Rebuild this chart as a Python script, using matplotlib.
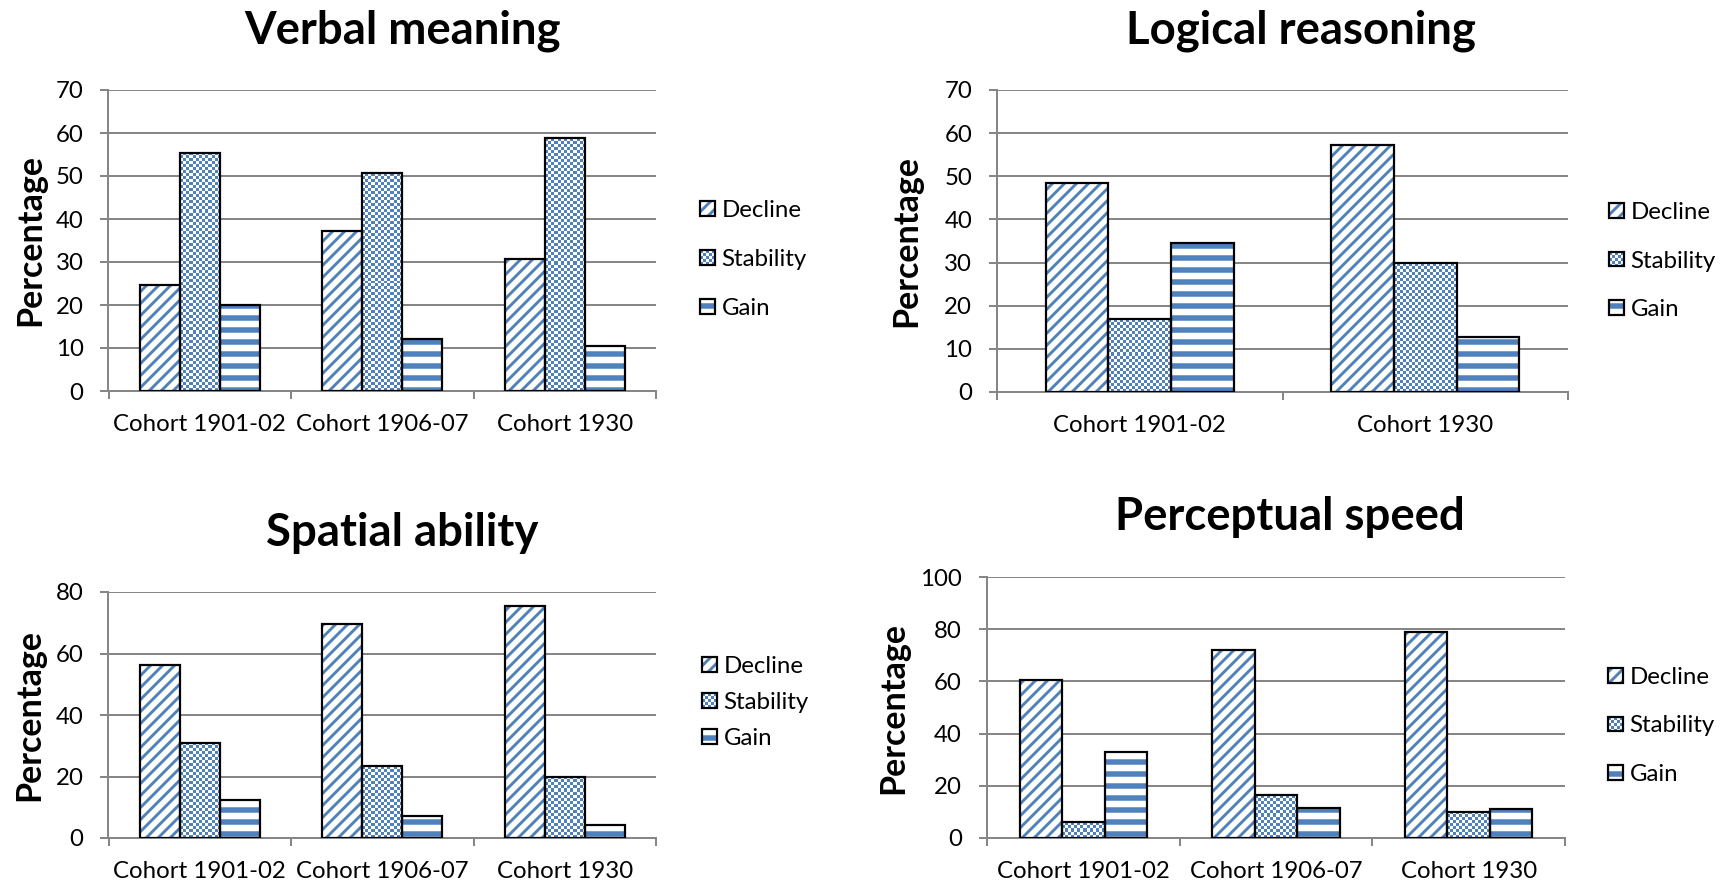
import numpy as np
import matplotlib
matplotlib.use("Agg")
import matplotlib.pyplot as plt
from matplotlib.patches import Rectangle
from matplotlib.legend_handler import HandlerBase
from matplotlib.colors import ListedColormap

plt.rcParams['font.family'] = ['Lato', 'DejaVu Sans']

# ---------------------------------------------------------------- data
series_names = ["Decline", "Stability", "Gain"]

verbal_cohorts = ["Cohort 1901-02", "Cohort 1906-07", "Cohort 1930"]
verbal_decline = [24.6, 37.2, 30.8]
verbal_stability = [55.4, 50.6, 58.8]
verbal_gain = [20.0, 12.2, 10.5]

logical_cohorts = ["Cohort 1901-02", "Cohort 1930"]
logical_decline = [48.5, 57.2]
logical_stability = [16.9, 29.9]
logical_gain = [34.5, 12.8]

spatial_cohorts = ["Cohort 1901-02", "Cohort 1906-07", "Cohort 1930"]
spatial_decline = [56.3, 69.5, 75.6]
spatial_stability = [30.9, 23.3, 19.9]
spatial_gain = [12.5, 7.0, 4.3]

speed_cohorts = ["Cohort 1901-02", "Cohort 1906-07", "Cohort 1930"]
speed_decline = [60.4, 71.9, 78.8]
speed_stability = [6.0, 16.3, 10.0]
speed_gain = [33.1, 11.5, 11.0]

# ---------------------------------------------------------------- style
W, H, DPI = 1729, 888, 72
BLUE = "#4F81BD"
GRID = "#868686"
BAR_W = 0.22
EDGE_LW = 2.2
TICK_FS = 24
TITLE_FS = 45.5
YLABEL_FS = 34
CHECK_PX = 3.0

HATCHES = {"Decline": ("//", 2.9), "Gain": ("-", 5.5)}


def set_hatch_lw(patch, lw):
    if hasattr(patch, "set_hatch_linewidth"):
        patch.set_hatch_linewidth(lw)


class SwatchHandler(HandlerBase):
    """Small square legend key mirroring the fill of each series."""

    def __init__(self, kind):
        super().__init__()
        self.kind = kind

    def create_artists(self, legend, orig_handle, xdescent, ydescent,
                       width, height, fontsize, trans):
        side = min(width, height)
        x0 = -xdescent + (width - side) / 2
        y0 = -ydescent + (height - side) / 2
        arts = [Rectangle((x0, y0), side, side, facecolor="white",
                          edgecolor="none", transform=trans)]
        if self.kind == "Stability":
            n = 5
            s = side / n
            for i in range(n):
                for j in range(n):
                    if (i + j) % 2 == 0:
                        arts.append(Rectangle((x0 + j * s, y0 + i * s), s, s,
                                              facecolor=BLUE, edgecolor="none",
                                              transform=trans))
        else:
            hatch, lw = HATCHES[self.kind]
            r = Rectangle((x0, y0), side, side, facecolor="white",
                          edgecolor=BLUE, linewidth=0, hatch=hatch,
                          transform=trans)
            set_hatch_lw(r, lw)
            arts.append(r)
        arts.append(Rectangle((x0, y0), side, side, fill=False,
                              edgecolor="black", linewidth=EDGE_LW,
                              transform=trans))
        return arts


fig = plt.figure(figsize=(W / DPI, H / DPI), dpi=DPI)


def panel(box, title, title_pos, cohorts, decline, stability, gain,
          ymax, ystep, ylabel_x, legend_pos, legend_spacing):
    left, top, right, bottom = box
    ax = fig.add_axes([left / W, 1 - bottom / H, (right - left) / W,
                       (bottom - top) / H])
    n = len(cohorts)
    x = np.arange(n)
    ax.set_xlim(-0.5, n - 0.5)
    ax.set_ylim(0, ymax)
    ax.set_autoscale_on(False)

    ax_w_px = right - left
    ax_h_px = bottom - top

    handles = []
    handler_map = {}
    for name, vals, off in zip(series_names, [decline, stability, gain],
                               [-BAR_W, 0.0, BAR_W]):
        if name == "Stability":
            cont = ax.bar(x + off, vals, BAR_W, facecolor="white",
                          edgecolor="none", linewidth=0, zorder=2)
            for rect, v in zip(cont.patches, vals):
                x0 = rect.get_x()
                w_px = BAR_W / n * ax_w_px
                h_px = v / ymax * ax_h_px
                nx = max(1, int(round(w_px / CHECK_PX)))
                ny = max(1, int(round(h_px / CHECK_PX)))
                board = np.add.outer(np.arange(ny), np.arange(nx)) % 2
                ax.imshow(board, cmap=ListedColormap(["white", BLUE]),
                          extent=(x0, x0 + BAR_W, 0, v), origin="lower",
                          aspect="auto", interpolation="nearest",
                          clip_path=rect, zorder=3)
        else:
            hatch, hlw = HATCHES[name]
            cont = ax.bar(x + off, vals, BAR_W, facecolor="white",
                          edgecolor=BLUE, linewidth=0, hatch=hatch, zorder=2)
            for rect in cont.patches:
                set_hatch_lw(rect, hlw)
        ax.bar(x + off, vals, BAR_W, fill=False, edgecolor="black",
               linewidth=EDGE_LW, zorder=4)
        handles.append(cont)
        handler_map[cont] = SwatchHandler(name)

    ax.set_xlim(-0.5, n - 0.5)
    ax.set_ylim(0, ymax)

    # axes, grid and ticks
    for side in ("top", "right"):
        ax.spines[side].set_visible(False)
    for side in ("left", "bottom"):
        ax.spines[side].set_color(GRID)
        ax.spines[side].set_linewidth(2)
    ax.set_axisbelow(True)
    ax.yaxis.grid(True, color=GRID, linewidth=2)
    ax.set_yticks(np.arange(0, ymax + 0.1, ystep))
    ax.tick_params(axis="y", length=8, width=2, color=GRID, pad=17,
                   labelsize=TICK_FS)
    ax.set_xticks(x)
    ax.set_xticklabels(cohorts)
    ax.set_xticks(np.arange(-0.5, n, 1.0), minor=True)
    ax.tick_params(axis="x", which="major", length=0, pad=23,
                   labelsize=TICK_FS)
    ax.tick_params(axis="x", which="minor", length=8, width=2, color=GRID)

    ax.set_ylabel("Percentage", fontsize=YLABEL_FS, fontweight="bold",
                  va="center")
    ax.yaxis.set_label_coords(ylabel_x, 0.5)

    fig.text(title_pos[0] / W, 1 - title_pos[1] / H, title, ha="center",
             va="baseline", fontsize=TITLE_FS, fontweight="bold")

    ax.legend(handles, series_names, handler_map=handler_map,
              loc="center left",
              bbox_to_anchor=(legend_pos[0] / W, 1 - legend_pos[1] / H),
              bbox_transform=fig.transFigure, frameon=False, borderpad=0,
              borderaxespad=0, handlelength=0.62, handleheight=0.62,
              handletextpad=0.28, labelspacing=legend_spacing,
              fontsize=TICK_FS)
    return ax


panel((108.5, 90, 656, 391), "Verbal meaning", (402, 44),
      verbal_cohorts, verbal_decline, verbal_stability, verbal_gain,
      70, 10, -0.143, (700, 259.5), 1.16)

panel((997, 90, 1568, 392), "Logical reasoning", (1301, 44),
      logical_cohorts, logical_decline, logical_stability, logical_gain,
      70, 10, -0.159, (1609, 261), 1.16)

panel((108.5, 592, 656, 838), "Spatial ability", (402, 546),
      spatial_cohorts, spatial_decline, spatial_stability, spatial_gain,
      80, 20, -0.145, (702, 702.5), 0.64)

panel((987, 577, 1565, 838), "Perceptual speed", (1290, 530),
      speed_cohorts, speed_decline, speed_stability, speed_gain,
      100, 20, -0.162, (1608, 726), 1.16)

fig.savefig("out.png", dpi=DPI, facecolor="white")
